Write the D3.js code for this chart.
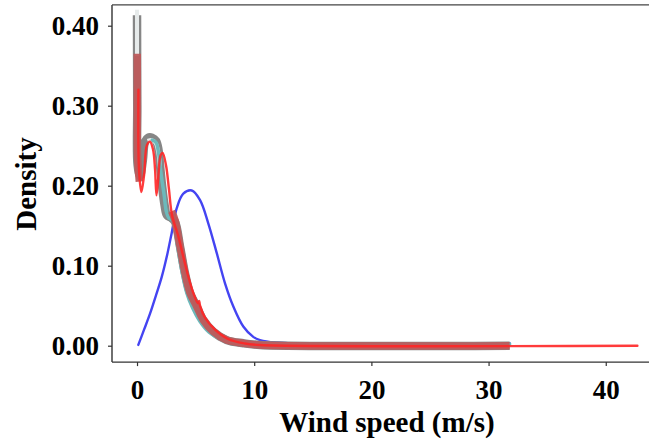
<!DOCTYPE html>
<html>
<head>
<meta charset="utf-8">
<script src="https://cdn.jsdelivr.net/npm/d3@7"></script>
<style>
  html, body { margin: 0; padding: 0; background: #fff; }
  svg { display: block; }
  text { font-family: "Liberation Serif", "Times New Roman", serif; font-weight: bold; fill: #000; }
</style>
</head>
<body>
<svg id="chart" width="649" height="440"></svg>
<script>
// ---- data ----
const xTicks = [0, 10, 20, 30, 40];
const yTicks = [0.00, 0.10, 0.20, 0.30, 0.40];
const xLabel = "Wind speed (m/s)";
const yLabel = "Density";

// grey (empirical-like) curve
const greySeries = [
  [0.0, 0.413], [0.02, 0.3], [0.05, 0.226], [0.26, 0.212], [0.5, 0.232], [0.68, 0.255],
  [0.94, 0.26], [1.28, 0.26], [1.62, 0.256], [1.83, 0.245], [1.96, 0.226],
  [2.13, 0.201], [2.35, 0.176], [2.56, 0.163], [2.9, 0.16], [3.24, 0.155],
  [3.67, 0.124], [4.1, 0.09], [4.52, 0.066], [5.09, 0.049], [5.66, 0.032],
  [6.51, 0.0175], [7.65, 0.007], [9.07, 0.003], [10.5, 0.001], [31.8, 0.0]
];
// light inner line within the grey spike/bump
const lightSeries = [
  [0.0, 0.42], [0.0, 0.362], [null, null], [0.9, 0.256], [1.28, 0.257],
  [1.6, 0.253], [1.83, 0.24], [1.96, 0.222]
];
// teal curve
const tealSeries = [
  [1.3, 0.257], [1.62, 0.254], [1.85, 0.24], [2.05, 0.215], [2.3, 0.19],
  [2.5, 0.168], [2.7, 0.16], [3.0, 0.157], [3.2, 0.15], [3.45, 0.126],
  [3.85, 0.092], [4.25, 0.066], [4.75, 0.047], [5.35, 0.031], [6.15, 0.017],
  [7.2, 0.008], [8.5, 0.004], [10.0, 0.002], [31.8, 0.002]
];
// dark red thick curve
const darkRedSeries = [
  [0.02, 0.365], [0.03, 0.3], [0.05, 0.235], [0.2, 0.205], [null, null],
  [2.95, 0.168], [3.24, 0.157], [3.67, 0.124], [4.1, 0.09], [4.52, 0.066],
  [5.09, 0.049], [5.66, 0.032], [6.51, 0.0175], [7.65, 0.007], [9.07, 0.003],
  [10.5, 0.001], [31.8, 0.0]
];
// bright red curve
const redSeries = [
  [0.12, 0.32], [0.17, 0.22], [0.37, 0.192], [0.6, 0.213], [0.85, 0.251],
  [1.11, 0.255], [1.37, 0.245], [1.54, 0.22], [1.66, 0.188], [1.83, 0.213],
  [2.01, 0.238], [2.18, 0.241], [2.47, 0.226], [2.73, 0.195], [2.99, 0.163],
  [3.5, 0.138], [3.92, 0.113], [4.35, 0.088], [4.78, 0.067], [5.2, 0.053],
  [5.3, 0.056], [5.38, 0.05], [5.8, 0.035], [6.66, 0.02], [7.76, 0.0084],
  [9.2, 0.0028], [10.5, 0.0009], [42.7, 0.0]
];
// blue fitted curve
const blueSeries = [
  [0.11, 0.001], [0.6, 0.02], [1.11, 0.04], [1.6, 0.062], [2.11, 0.086],
  [2.55, 0.112], [2.96, 0.141], [3.39, 0.172], [3.95, 0.19], [4.67, 0.194],
  [5.38, 0.182], [6.08, 0.153], [6.8, 0.116], [7.51, 0.078], [8.22, 0.049],
  [9.07, 0.024], [9.92, 0.011], [10.5, 0.007], [11.8, 0.004], [31.8, 0.003]
];

// ---- layout ----
const svg = d3.select("#chart");
const x = d3.scaleLinear().domain([-2.135, 44.8]).range([112, 662]);
const y = d3.scaleLinear().domain([-0.0205, 0.426]).range([362.1, 4.9]);

const line = d3.line()
  .defined(d => d[0] !== null)
  .x(d => x(d[0]))
  .y(d => y(d[1]))
  .curve(d3.curveCatmullRom.alpha(0.5));

const plot = svg.append("g");

function draw(data, color, width, opacity, cap) {
  plot.append("path").datum(data).attr("d", line)
    .attr("fill", "none").attr("stroke", color).attr("stroke-width", width)
    .attr("stroke-opacity", opacity)
    .attr("stroke-linejoin", "round").attr("stroke-linecap", cap);
}

draw(blueSeries, "#4444f2", 2.4, 1, "round");
draw(greySeries, "#868686", 8.5, 1, "butt");
draw(lightSeries, "#e6eaea", 4, 1, "butt");
draw(tealSeries, "#6cb9bb", 3.5, 1, "round");
draw(darkRedSeries, "#bd5a5b", 7.5, 0.95, "butt");
draw(redSeries, "#ff2626", 2.4, 0.9, "round");

// ---- axes ----
const xAxis = d3.axisBottom(x).tickValues(xTicks).tickSize(4).tickPadding(14)
  .tickFormat(d3.format("d"));
const gx = svg.append("g").attr("transform", `translate(0,${y.range()[0]})`).call(xAxis);
gx.select(".domain").attr("d", `M112,0H649`).attr("stroke", "#333").attr("stroke-width", 1.4);
gx.selectAll(".tick line").attr("stroke", "#333").attr("stroke-width", 1.2);
gx.selectAll("text").style("font-size", "27px").attr("fill", "#000");

const yAxis = d3.axisLeft(y).tickValues(yTicks).tickSize(4).tickPadding(9)
  .tickFormat(d3.format(".2f"));
const gy = svg.append("g").attr("transform", `translate(112,0)`).call(yAxis);
gy.select(".domain").attr("d", `M0,${y.range()[1]}V${y.range()[0]}`).attr("stroke", "#333").attr("stroke-width", 1.4);
gy.selectAll(".tick line").attr("stroke", "#333").attr("stroke-width", 1.2);
gy.selectAll("text").style("font-size", "27px").attr("fill", "#000").attr("dy", "0.32em");

// top border
svg.append("line").attr("x1", 112).attr("x2", 649)
  .attr("y1", y.range()[1]).attr("y2", y.range()[1])
  .attr("stroke", "#444").attr("stroke-width", 1.4);

// titles
svg.append("text").attr("x", 387).attr("y", 432).attr("text-anchor", "middle")
  .style("font-size", "29px").text(xLabel);
svg.append("text").attr("transform", "translate(36,184) rotate(-90)")
  .attr("text-anchor", "middle").style("font-size", "29px").text(yLabel);
</script>
</body>
</html>
